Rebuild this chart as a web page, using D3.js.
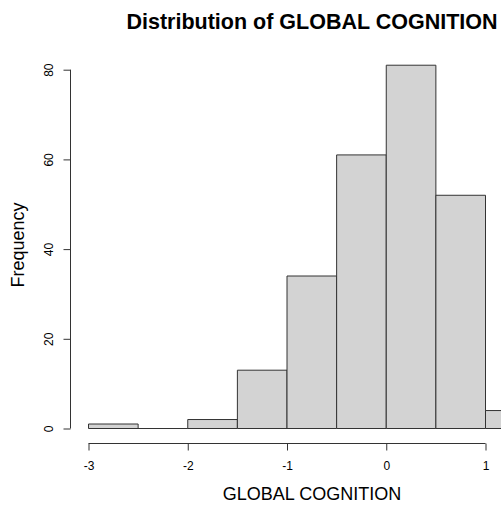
<!DOCTYPE html>
<html>
<head>
<meta charset="utf-8">
<style>
  body { margin: 0; background: #fff; }
  svg text { font-family: "Liberation Sans", Arial, sans-serif; fill: #000; }
  .bar { fill: #d3d3d3; stroke: #333; stroke-width: 1; }
  .axis path, .axis line { stroke: #333; }
</style>
</head>
<body>
<svg width="501" height="512"></svg>
<script src="https://cdn.jsdelivr.net/npm/d3@7"></script>
<script>
// histogram bins (lower edge) and counts
var binStarts = [-3, -2.5, -2, -1.5, -1, -0.5, 0, 0.5, 1];
var binWidth = 0.5;
var counts = [1, 0, 2, 13, 34, 61, 81, 52, 4];
var xTicks = [-3, -2, -1, 0, 1];
var yTicks = [0, 20, 40, 60, 80];

var svg = d3.select("svg");

var x = d3.scaleLinear().domain([-3, 1]).range([88.5, 485.5]);
var y = d3.scaleLinear().domain([0, 80]).range([428.5, 69.7]);

// paths so that empty bins still show as a line on the baseline, like R
svg.selectAll("path.bar")
    .data(binStarts)
  .enter().append("path")
    .attr("class", "bar")
    .attr("d", function(d, i) {
      var x0 = x(d), x1 = x(d + binWidth), y0 = y(0), y1 = y(counts[i]);
      return "M" + x0 + "," + y0 + "V" + y1 + "H" + x1 + "V" + y0 + "Z";
    });

var plain = function(d) { return String(d); };

var xAxis = svg.append("g")
    .attr("class", "axis")
    .attr("transform", "translate(0,443.5)")
    .call(d3.axisBottom(x).tickValues(xTicks).tickSize(7).tickSizeOuter(0).tickPadding(11).tickFormat(plain));
xAxis.selectAll("text").style("font-size", "12px").attr("font-family", null);

var yAxis = svg.append("g")
    .attr("class", "axis")
    .attr("transform", "translate(70.5,0)")
    .call(d3.axisLeft(y).tickValues(yTicks).tickSize(7).tickSizeOuter(0).tickFormat(plain));
yAxis.selectAll("text")
    .attr("x", null).attr("dy", null)
    .attr("transform", "translate(-18,0) rotate(-90)")
    .attr("text-anchor", "middle")
    .style("font-size", "12px");
yAxis.select(".domain").attr("d", "M0," + y(0) + "V" + y(80));
xAxis.select(".domain").attr("d", "M" + x(-3) + ",0H" + x(1));

svg.append("text")
    .attr("x", 312).attr("y", 29)
    .attr("text-anchor", "middle")
    .style("font-size", "21.5px").style("font-weight", "bold")
    .text("Distribution of GLOBAL COGNITION");

svg.append("text")
    .attr("x", 312).attr("y", 500)
    .attr("text-anchor", "middle")
    .style("font-size", "18px")
    .text("GLOBAL COGNITION");

svg.append("text")
    .attr("transform", "translate(24,245) rotate(-90)")
    .attr("text-anchor", "middle")
    .style("font-size", "18px")
    .text("Frequency");
</script>
</body>
</html>
